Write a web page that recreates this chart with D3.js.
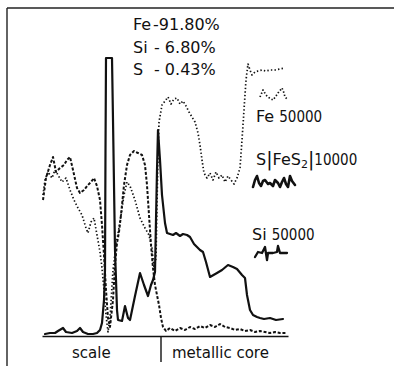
<!DOCTYPE html>
<html><head><meta charset="utf-8">
<script src="https://cdn.jsdelivr.net/npm/d3@7"></script>
<style>body{margin:0;background:#fff}svg{display:block}text{font-family:"DejaVu Sans",sans-serif;fill:#111}</style>
</head><body><div id="chart"></div>
<script>
// depth (µm, arbitrary units) and intensity (counts, arbitrary)
const siDepth = [3,8,13,16,21,24,30,35,38,41,46,51,55,58,60,62,63,63.5,64,70,71,73,75,76,80,83,86,88,93,98,102,106,109,111,113,114,115,116,118,120,123,125,131,134,138,141,145,148,152,155,158,161,164,168,175,180,186,191,195,200,203,205,208,211,215,218,222,228,234,241];
const siVal   = [2,3,3,5,8,4,3,5,8,4,2,2,3,6,13,36,66,186,278,278,216,86,26,16,15,30,18,16,40,63,51,40,51,56,64,116,166,206,176,141,113,103,101,103,100,102,101,99,92,89,86,84,74,59,63,66,71,69,67,61,58,41,26,21,19,18,17,18,16,17];

const feDepth = [1,3,6,10,13,16,20,24,28,32,36,40,44,46,49,52,55,58,60,62,64,66,68,71,74,78,82,85,88,93,98,103,107,110,112,114,115,116,117,120,123,126,129,132,135,138,141,144,147,150,153,156,158,160,162,165,168,171,174,177,180,183,186,189,192,195,198,200,202,204,206,208,210,213,216,220,224,228,233,238,243];
const feVal   = [141,156,164,158,166,161,154,158,146,136,128,121,108,103,114,118,101,84,68,46,21,4,18,66,91,114,141,154,150,136,118,108,101,88,68,78,131,181,214,231,235,239,232,237,238,232,235,230,224,219,214,203,191,176,163,158,163,156,164,158,161,154,160,156,152,158,168,196,226,256,272,266,261,264,265,266,265,266,266,267,268];

const sDepth = [1,4,8,11,14,18,22,25,28,31,35,38,42,46,49,52,55,58,60,62,64,66,68,71,73,75,77,79,82,85,88,92,96,100,103,105,107,109,111,113,115,117,119,121,124,128,133,138,143,148,153,158,163,168,173,178,183,188,193,198,203,208,213,218,223,228,233,238,244];
const sVal   = [136,158,171,179,164,168,171,176,179,166,148,143,146,151,154,158,150,136,111,81,46,18,9,36,71,93,104,121,151,171,181,185,183,181,171,151,121,91,68,51,41,31,18,9,5,8,5,8,6,9,7,10,8,11,9,12,9,8,6,7,5,6,4,5,4,3,4,3,3];

// legend sample traces
const feKeyDepth = [218,221,224,226,229,231,234,236,240,242,243,246];
const feKeyVal   = [239,246,241,239,237,236,240,243,248,243,239,236];
const sKeyDepth  = [211,213,215,217,219,221,223,226,228,231,233,236,238,240,242,244,246,248,250,253];
const sKeyVal    = [149,156,160,153,150,155,156,152,153,150,156,153,149,154,158,152,149,160,155,151];
const siKeyDepth = [213,216,220,223,225,226,231,235,236,238,245];
const siKeyVal   = [79,84,83,89,76,83,83,84,90,83,83];

const composition = [["Fe","-91.80%"],["Si","- 6.80%"],["S","- 0.43%"]];
const regions = ["scale","metallic core"];
const regionBoundary = 119;

const W = 394, H = 366;
const svg = d3.select("#chart").append("svg").attr("width", W).attr("height", H);
const x = d3.scaleLinear().domain([0, 246]).range([42, 288]);
const y = d3.scaleLinear().domain([0, 278]).range([336, 58]);
const ink = "#111";

// frame
svg.append("line").attr("x1",7).attr("x2",7).attr("y1",8).attr("y2",366).attr("stroke","#222").attr("stroke-width",1.4);
svg.append("line").attr("x1",7).attr("x2",394).attr("y1",8).attr("y2",8).attr("stroke","#222").attr("stroke-width",1.4);

// axis baseline
const xAxis = d3.axisBottom(x).tickValues([]).tickSizeOuter(0);
const ax = svg.append("g").attr("transform",`translate(0,${y(0)})`).call(xAxis);
ax.select(".domain").attr("stroke",ink).attr("stroke-width",1.5);
svg.append("line").attr("x1",x(regionBoundary)).attr("x2",x(regionBoundary)).attr("y1",y(0)).attr("y2",362).attr("stroke",ink).attr("stroke-width",1.4);

const line = d3.line().x(d=>x(d[0])).y(d=>y(d[1]));
const zip = (a,b)=>a.map((v,i)=>[v,b[i]]);

function draw(dx, dv, w, dash){
  const p = svg.append("path").datum(zip(dx,dv)).attr("d",line)
    .attr("fill","none").attr("stroke",ink).attr("stroke-width",w)
    .attr("stroke-linejoin","round").attr("stroke-linecap", dash ? "butt" : "round");
  if (dash) p.attr("stroke-dasharray", dash);
}
draw(feDepth, feVal, 1.7, "1.4,2.2");
draw(sDepth, sVal, 2, "3,1.8");
draw(siDepth, siVal, 2.2, null);
draw(feKeyDepth, feKeyVal, 1.7, "1.4,2");
draw(sKeyDepth, sKeyVal, 2.6, null);
draw(siKeyDepth, siKeyVal, 2.3, null);

// composition text
const comp = svg.append("g").attr("font-size",16);
composition.forEach((c,i)=>{
  const by = 30 + i*22.5;
  comp.append("text").attr("x",133).attr("y",by).text(c[0]);
  comp.append("text").attr("x", i===0 ? 153 : 154).attr("y",by).attr("xml:space","preserve").text(c[1]);
});

// labels
const lab = svg.append("g").attr("font-size",16);
const t1 = lab.append("text").attr("x",256).attr("y",122);
t1.append("tspan").text("Fe ");
t1.append("tspan").attr("font-family","DejaVu Sans Condensed").attr("font-size",15).text("50000");
const t2 = lab.append("text").attr("x",256).attr("y",165);
t2.append("tspan").text("S");
t2.append("tspan").attr("font-size",19).attr("dy",1).text("|");
t2.append("tspan").attr("dy",-1).text("FeS");
t2.append("tspan").attr("font-size",11).attr("dy",3).text("2");
t2.append("tspan").attr("font-size",19).attr("dy",-2).text("|");
t2.append("tspan").attr("dy",-1).attr("font-family","DejaVu Sans Condensed").attr("font-size",15).text("10000");
const t3 = lab.append("text").attr("x",252).attr("y",240);
t3.append("tspan").text("Si ");
t3.append("tspan").attr("font-family","DejaVu Sans Condensed").attr("font-size",15).text("50000");

const reg = svg.append("g").attr("font-size",15);
reg.append("text").attr("x",72).attr("y",358).text(regions[0]);
reg.append("text").attr("x",172).attr("y",358).text(regions[1]);
</script></body></html>
